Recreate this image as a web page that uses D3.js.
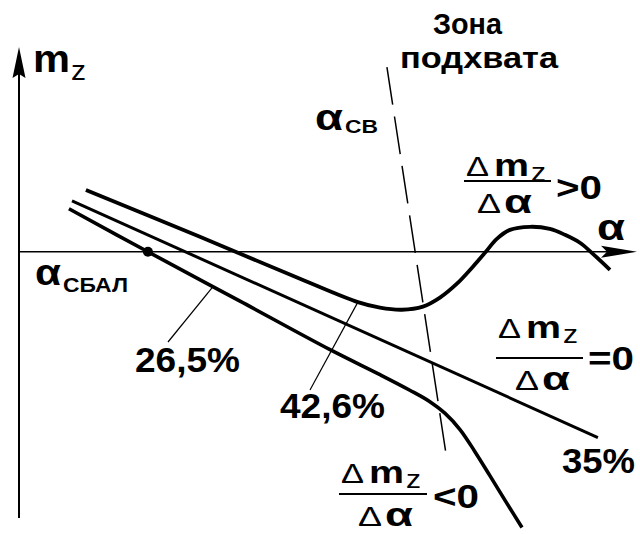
<!DOCTYPE html>
<html>
<head>
<meta charset="utf-8">
<script src="https://cdn.jsdelivr.net/npm/d3@7"></script>
<style>
  html, body { margin: 0; padding: 0; background: #fff; }
  svg text { font-family: "Liberation Sans", Arial, sans-serif; fill: #000; }
</style>
</head>
<body>
<svg id="chart" width="640" height="534"></svg>
<script>
// m_z(α) curves for three centre-of-gravity positions, [α, m_z]
const curve42_6 = [
  [3.27, 0.0302], [8.84, 0.0073], [13.73, -0.0132], [16.56, -0.0246],
  [17.64, -0.0273], [18.71, -0.0283], [19.74, -0.0268], [20.57, -0.0224],
  [21.40, -0.0156], [22.18, -0.0073], [22.77, -0.0005], [23.35, 0.0063],
  [23.99, 0.0107], [24.97, 0.0122], [25.94, 0.0112], [26.68, 0.0083],
  [27.41, 0.0044], [27.99, -0.0005], [28.88, -0.0088]
];
const curve35 = [[2.59, 0.0249], [28.29, -0.0907]];
const curve26_5 = [
  [2.44, 0.0210], [6.30, 0], [10.80, -0.0241], [15.20, -0.0478],
  [17.64, -0.0600], [19.10, -0.0676], [20.08, -0.0732], [20.81, -0.0788],
  [21.55, -0.0868], [22.28, -0.0976], [23.01, -0.1093], [23.79, -0.1220],
  [24.58, -0.1346]
];
// boundary of the pick-up zone (α_св)
const pickupBoundary = [[17.98, 0.0902], [20.91, -0.1015]];
// balance angle α_сбал on the 26.5% curve
const balancePoint = [6.30, 0];
// CG-position labels
const cgLabels = ["26,5%", "42,6%", "35%"];

const svg = d3.select("#chart");
const x = d3.scaleLinear().domain([0, 30.2]).range([19, 637]);
const y = d3.scaleLinear().domain([-0.13, 0.1]).range([518, 47]);

// axes
const x0 = x(0), y0 = y(0);
svg.append("line").attr("x1", x0).attr("y1", y0).attr("x2", x(30.2) - 20).attr("y2", y0)
  .attr("stroke", "#000").attr("stroke-width", 1.6);
svg.append("path")
  .attr("d", `M${x(30.2)},${y0} L${x(30.2) - 36},${y0 - 6} L${x(30.2) - 30},${y0} L${x(30.2) - 36},${y0 + 6} Z`)
  .attr("fill", "#000");
svg.append("line").attr("x1", x0).attr("y1", y(-0.13)).attr("x2", x0).attr("y2", y(0.1) + 20)
  .attr("stroke", "#000").attr("stroke-width", 2);
svg.append("path")
  .attr("d", `M${x0},${y(0.1)} L${x0 - 6.5},${y(0.1) + 31} L${x0},${y(0.1) + 27} L${x0 + 6.5},${y(0.1) + 31} Z`)
  .attr("fill", "#000");

const line = d3.line().x(d => x(d[0])).y(d => y(d[1])).curve(d3.curveCatmullRom.alpha(0.5));

// pick-up zone boundary
svg.append("path").datum(pickupBoundary).attr("d", line)
  .attr("fill", "none").attr("stroke", "#000").attr("stroke-width", 1.5)
  .attr("stroke-dasharray", "38,12");

svg.append("path").datum(curve35).attr("d", line)
  .attr("fill", "none").attr("stroke", "#000").attr("stroke-width", 3);
svg.append("path").datum(curve26_5).attr("d", line)
  .attr("fill", "none").attr("stroke", "#000").attr("stroke-width", 3.6);
svg.append("path").datum(curve42_6).attr("d", line)
  .attr("fill", "none").attr("stroke", "#000").attr("stroke-width", 3.8);

svg.append("circle").attr("cx", x(balancePoint[0])).attr("cy", y(balancePoint[1])).attr("r", 5)
  .attr("fill", "#000");

// leader lines to CG labels
function onCurve(c, a) {
  for (let i = 0; i < c.length - 1; i++) {
    if (a >= c[i][0] && a <= c[i + 1][0]) {
      const t = (a - c[i][0]) / (c[i + 1][0] - c[i][0]);
      return [a, c[i][1] + t * (c[i + 1][1] - c[i][1])];
    }
  }
  return c[c.length - 1];
}
const p265 = onCurve(curve26_5, 9.48);
svg.append("line").attr("x1", x(p265[0])).attr("y1", y(p265[1])).attr("x2", 168).attr("y2", 342)
  .attr("stroke", "#000").attr("stroke-width", 1.2);
const p426 = onCurve(curve42_6, 16.56);
svg.append("line").attr("x1", x(p426[0])).attr("y1", y(p426[1])).attr("x2", 310).attr("y2", 390)
  .attr("stroke", "#000").attr("stroke-width", 1.2);

function txt(px, py, s, size, weight, anchor, width) {
  const t = svg.append("text").attr("x", px).attr("y", py).text(s)
    .attr("font-size", size).attr("font-weight", weight || "bold")
    .attr("text-anchor", anchor || "start");
  if (width) t.attr("textLength", width).attr("lengthAdjust", "spacingAndGlyphs");
  return t;
}

// axis titles
txt(33, 72, "m", 38, "bold", "start", 37);
txt(71, 80, "z", 27, "normal", "start", 15);
txt(597, 240, "α", 36, "bold", "start", 28);

txt(433, 34, "Зона", 30, "bold", "start", 69);
txt(400, 68, "подхвата", 30, "bold", "start", 158);

txt(315, 130, "α", 36, "bold", "start", 28);
txt(345, 133, "СВ", 19, "bold", "start", 33);

txt(35, 285, "α", 36, "bold", "start", 26);
txt(63, 292, "СБАЛ", 21, "bold", "start", 65);

txt(135, 372, cgLabels[0], 35, "bold", "start", 105);
txt(280, 418, cgLabels[1], 35, "bold", "start", 105);
txt(562, 473, cgLabels[2], 35, "bold", "start", 73);

// derivative fractions
function fraction(left, numBase, barY, barW, denLeft, denBase, rhsX, rhsBase, rhs) {
  txt(left + 2, numBase, "Δ", 27, "normal", "start", 23);
  txt(left + 30, numBase, "m", 32, "bold", "start", 35);
  txt(left + 67, numBase + 5, "z", 25, "normal", "start", 15);
  svg.append("line").attr("x1", left).attr("x2", left + barW).attr("y1", barY).attr("y2", barY)
    .attr("stroke", "#000").attr("stroke-width", 2.2);
  txt(denLeft, denBase, "Δ", 27, "normal", "start", 24);
  txt(denLeft + 27, denBase, "α", 34, "bold", "start", 28);
  txt(rhsX, rhsBase, rhs, 33, "bold", "start", rhs.length * 23);
}
fraction(464, 176, 181, 87, 477, 213, 556, 199, ">0");
fraction(496, 338, 358, 87, 515, 390, 588, 370, "=0");
fraction(339, 483, 494, 88, 358, 526, 433, 508, "<0");
</script>
</body>
</html>
